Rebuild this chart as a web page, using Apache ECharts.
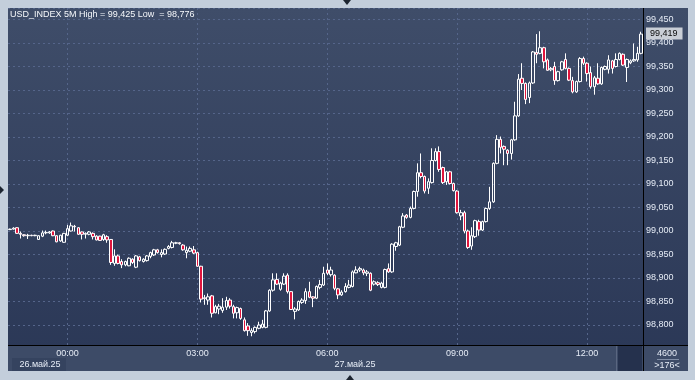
<!DOCTYPE html>
<html><head><meta charset="utf-8">
<script src="https://cdn.jsdelivr.net/npm/echarts@6/dist/echarts.min.js"></script>
<style>html,body{margin:0;padding:0;background:#c3cedb;overflow:hidden}#c{width:695px;height:380px}</style>
</head><body><div id="c"></div>
<script>
// ---------- data ----------
const symbol = 'USD_INDEX';
const timeframe = '5M';
const firstBarTime = '22:40';          // first visible bar, 26 May 2025
const barMinutes = 5;
const tickLabels = ['00:00', '03:00', '06:00', '09:00', '12:00'];
const dateLabels = ['26.май.25', '27.май.25'];
const totalBars = 4600;
const yMin = 98.75, yMax = 99.4745, yStep = 0.05;
// [open, close, low, high]
const ohlc = [
[99.003,99.004,99.002,99.005],[99.004,99.006,99.003,99.008],[99.007,98.995,98.994,99.008],[98.995,98.993,98.984,98.999],
[98.992,98.990,98.988,98.993],[98.990,98.991,98.983,98.994],[98.991,98.990,98.989,98.992],[98.990,98.991,98.989,98.992],
[98.982,98.990,98.981,98.991],[98.989,98.996,98.987,99.001],[98.996,98.997,98.993,99.001],[98.996,98.998,98.994,99.000],
[99.000,98.990,98.989,99.001],[98.990,98.977,98.976,98.991],[98.979,98.991,98.977,98.992],[98.976,98.995,98.975,98.996],
[98.991,99.005,98.989,99.013],[99.000,99.011,98.999,99.018],[99.010,99.009,98.999,99.013],[99.007,98.993,98.992,99.008],
[98.998,98.993,98.982,98.999],[98.993,98.995,98.984,98.997],[98.993,98.998,98.991,99.000],[98.995,98.988,98.982,98.997],
[98.989,98.981,98.980,98.991],[98.989,98.980,98.979,98.990],[98.982,98.992,98.979,98.994],[98.988,98.981,98.975,98.991],
[98.982,98.933,98.928,98.983],[98.931,98.947,98.926,98.961],[98.947,98.931,98.929,98.950],[98.935,98.928,98.921,98.940],
[98.928,98.935,98.925,98.937],[98.926,98.942,98.925,98.944],[98.940,98.933,98.930,98.942],[98.923,98.947,98.921,98.949],
[98.945,98.937,98.935,98.947],[98.935,98.940,98.933,98.942],[98.937,98.947,98.935,98.949],[98.946,98.954,98.942,98.956],
[98.949,98.960,98.947,98.962],[98.960,98.954,98.952,98.962],[98.950,98.954,98.944,98.961],[98.951,98.961,98.949,98.963],
[98.963,98.967,98.961,98.970],[98.965,98.975,98.963,98.979],[98.974,98.975,98.972,98.977],[98.975,98.973,98.971,98.976],
[98.970,98.960,98.958,98.972],[98.954,98.959,98.942,98.967],[98.957,98.963,98.955,98.967],[98.960,98.953,98.951,98.968],
[98.954,98.925,98.924,98.956],[98.925,98.855,98.848,98.926],[98.858,98.856,98.843,98.864],[98.853,98.860,98.843,98.867],
[98.862,98.825,98.816,98.864],[98.826,98.839,98.825,98.843],[98.834,98.840,98.823,98.845],[98.831,98.838,98.826,98.857],
[98.838,98.852,98.832,98.860],[98.853,98.840,98.835,98.857],[98.839,98.825,98.814,98.843],[98.826,98.837,98.814,98.839],
[98.835,98.814,98.811,98.837],[98.811,98.788,98.786,98.816],[98.798,98.788,98.777,98.804],[98.784,98.788,98.776,98.793],
[98.786,98.795,98.782,98.797],[98.793,98.800,98.791,98.807],[98.795,98.802,98.793,98.811],[98.795,98.830,98.793,98.832],
[98.830,98.874,98.828,98.876],[98.874,98.896,98.871,98.910],[98.897,98.887,98.885,98.910],[98.876,98.889,98.873,98.892],
[98.887,98.904,98.885,98.910],[98.906,98.871,98.867,98.910],[98.871,98.833,98.832,98.872],[98.829,98.834,98.812,98.838],
[98.832,98.850,98.830,98.852],[98.848,98.853,98.845,98.857],[98.852,98.871,98.845,98.878],[98.871,98.859,98.857,98.892],
[98.860,98.857,98.838,98.861],[98.857,98.882,98.855,98.884],[98.880,98.886,98.876,98.896],[98.885,98.910,98.883,98.924],
[98.917,98.910,98.906,98.931],[98.907,98.917,98.903,98.924],[98.906,98.878,98.874,98.908],[98.877,98.864,98.855,98.879],
[98.864,98.870,98.862,98.874],[98.871,98.882,98.869,98.889],[98.880,98.885,98.878,98.896],[98.882,98.913,98.880,98.916],
[98.911,98.917,98.910,98.925],[98.917,98.920,98.913,98.924],[98.917,98.911,98.906,98.920],[98.910,98.913,98.904,98.917],
[98.910,98.874,98.872,98.912],[98.887,98.892,98.884,98.895],[98.890,98.886,98.883,98.893],[98.880,98.889,98.878,98.892],
[98.880,98.918,98.878,98.920],[98.920,98.913,98.911,98.931],[98.913,98.972,98.911,98.974],[98.967,98.975,98.958,98.977],
[98.970,99.009,98.968,99.011],[99.008,99.032,99.006,99.038],[99.034,99.029,99.026,99.036],[99.029,99.048,99.027,99.052],
[99.048,99.084,99.046,99.086],[99.084,99.124,99.073,99.144],[99.124,99.116,99.112,99.165],[99.116,99.085,99.080,99.118],
[99.091,99.105,99.079,99.112],[99.103,99.150,99.101,99.176],[99.150,99.169,99.148,99.176],[99.169,99.131,99.126,99.180],
[99.135,99.103,99.100,99.137],[99.105,99.126,99.098,99.128],[99.126,99.101,99.099,99.128],[99.101,99.086,99.084,99.103],
[99.085,99.039,99.037,99.087],[99.032,99.039,99.023,99.045],[99.039,99.000,98.995,99.043],[99.000,98.965,98.962,99.003],
[98.968,98.990,98.960,99.008],[98.988,99.022,98.985,99.024],[99.020,99.002,98.990,99.024],[99.002,99.020,99.000,99.022],
[99.020,99.048,99.018,99.050],[99.048,99.062,99.045,99.094],[99.062,99.144,99.060,99.146],[99.144,99.195,99.142,99.204],
[99.195,99.178,99.165,99.201],[99.180,99.174,99.140,99.182],[99.172,99.165,99.140,99.174],[99.165,99.194,99.152,99.196],
[99.194,99.245,99.192,99.275],[99.245,99.323,99.243,99.334],[99.325,99.314,99.300,99.357],[99.314,99.280,99.270,99.316],
[99.284,99.315,99.272,99.318],[99.315,99.381,99.313,99.383],[99.380,99.376,99.357,99.419],[99.378,99.390,99.376,99.425],
[99.390,99.360,99.346,99.392],[99.364,99.342,99.341,99.367],[99.343,99.346,99.340,99.349],[99.350,99.320,99.311,99.360],
[99.320,99.339,99.318,99.341],[99.343,99.360,99.341,99.362],[99.365,99.346,99.344,99.378],[99.346,99.321,99.319,99.348],
[99.320,99.296,99.293,99.328],[99.296,99.318,99.294,99.320],[99.318,99.367,99.316,99.370],[99.367,99.357,99.353,99.371],
[99.357,99.335,99.318,99.359],[99.337,99.307,99.303,99.350],[99.307,99.326,99.290,99.330],[99.325,99.313,99.311,99.357],
[99.313,99.348,99.311,99.350],[99.344,99.350,99.342,99.352],[99.344,99.364,99.335,99.374],[99.362,99.346,99.335,99.364],
[99.350,99.365,99.348,99.378],[99.365,99.378,99.363,99.380],[99.376,99.353,99.351,99.378],[99.348,99.365,99.317,99.367],
[99.358,99.362,99.355,99.365],[99.362,99.365,99.360,99.399],[99.364,99.378,99.360,99.392],[99.378,99.419,99.376,99.424]
];

// ---------- derived ----------
const categories = [];
{
  const [hh, mm] = firstBarTime.split(':').map(Number);
  let t = hh * 60 + mm;
  for (let i = 0; i < ohlc.length; i++) {
    const m = ((t + i * barMinutes) % 1440 + 1440) % 1440;
    categories.push(String(Math.floor(m / 60)).padStart(2, '0') + ':' + String(m % 60).padStart(2, '0'));
  }
}
const fmt = v => v.toFixed(3).replace('.', ',');
const hi = Math.max(...ohlc.map(d => d[3]));
const lo = Math.min(...ohlc.map(d => d[2]));
const last = ohlc[ohlc.length - 1][1];

const FONT = '"Liberation Sans", Arial, sans-serif';
const TXT = '#e6ecf6';

const chart = echarts.init(document.getElementById('c'), null, {renderer: 'canvas'});
chart.setOption({
  animation: false,
  backgroundColor: '#c3cedb',
  textStyle: {fontFamily: FONT},
  title: {
    text: symbol + ' ' + timeframe + ' High = ' + fmt(hi) + ' Low  = ' + fmt(lo),
    left: 10, top: 10, padding: 0,
    textStyle: {color: '#f6f8fb', fontSize: 9, fontWeight: 'normal', fontFamily: FONT}
  },
  grid: {left: 8, right: 52, top: 8, bottom: 31.5, containLabel: false},
  xAxis: [{
    type: 'category', data: categories, boundaryGap: true, z: 0,
    axisLine: {show: false}, axisTick: {show: false}, axisLabel: {show: false},
    splitLine: {show: true, alignWithLabel: true,
      interval: (i, v) => tickLabels.includes(v),
      lineStyle: {color: '#55658a', width: 1, type: [2, 3]}}
  }, {
    type: 'category', data: categories, boundaryGap: true, position: 'bottom', z: 10,
    axisLine: {show: false}, axisTick: {show: false}, splitLine: {show: false},
    axisLabel: {show: true, interval: (i, v) => tickLabels.includes(v), margin: 5,
      verticalAlign: 'middle', color: TXT, fontSize: 9, fontFamily: FONT}
  }],
  yAxis: {
    type: 'value', position: 'right', min: yMin, max: yMax, interval: yStep,
    axisLine: {show: false}, axisTick: {show: false},
    axisLabel: {color: TXT, fontSize: 9, margin: 3, fontFamily: FONT,
      showMinLabel: false, showMaxLabel: false, formatter: v => fmt(v)},
    splitLine: {show: true, lineStyle: {color: '#55658a', width: 1, type: [2, 3]}}
  },
  series: [{
    type: 'candlestick', data: ohlc, xAxisIndex: 0, yAxisIndex: 0, barWidth: 3,
    itemStyle: {color: 'rgba(0,0,0,0)', color0: '#e0153d', borderColor: '#ffffff', borderColor0: '#ffffff', borderWidth: 1},
    emphasis: {disabled: true},
    markLine: {
      silent: true, symbol: ['none', 'none'], animation: false, z: 20,
      lineStyle: {color: 'rgba(0,0,0,0)', width: 0, type: 'solid'},
      label: {show: true, position: 'end', distance: 3, formatter: () => fmt(last),
        opacity: 1, backgroundColor: '#c9ced6', color: '#0a0a0a', fontSize: 9, fontFamily: FONT,
        padding: [2, 5, 1, 4]},
      data: [{yAxis: last}]
    }
  }],
  graphic: [
    {type: 'rect', z: -10, silent: true, shape: {x: 8, y: 8, width: 680, height: 363},
      style: {fill: new echarts.graphic.LinearGradient(0, 0, 0, 1, [
        {offset: 0, color: '#3f4d69'}, {offset: 1, color: '#2a3756'}])}},
    {type: 'rect', z: 5, silent: true, shape: {x: 8, y: 345.5, width: 680, height: 25.5}, style: {fill: '#3d4b67'}},
    {type: 'rect', z: 6, silent: true, shape: {x: 12, y: 358, width: 54, height: 13}, style: {fill: '#35435f'}},
    {type: 'rect', z: 6, silent: true, shape: {x: 618, y: 346, width: 24, height: 25}, style: {fill: '#25314d'}},
    {type: 'line', z: 6, silent: true, shape: {x1: 616.5, y1: 346, x2: 616.5, y2: 371}, style: {stroke: '#5a6680', lineWidth: 1}},
    {type: 'line', z: 7, silent: true, shape: {x1: 8, y1: 345.5, x2: 688, y2: 345.5}, style: {stroke: '#000', lineWidth: 1}},
    {type: 'line', z: 7, silent: true, shape: {x1: 643.5, y1: 8, x2: 643.5, y2: 371}, style: {stroke: '#000', lineWidth: 1}},
    {type: 'line', z: 7, silent: true, shape: {x1: 657, y1: 359.5, x2: 679, y2: 359.5}, style: {stroke: '#8390a8', lineWidth: 1}},
    {type: 'text', z: 8, silent: true, style: {text: String(totalBars), x: 667, y: 354, align: 'center', verticalAlign: 'middle', fill: TXT, font: '9px ' + FONT}},
    {type: 'text', z: 8, silent: true, style: {text: '>' + ohlc.length + '<', x: 667, y: 366, align: 'center', verticalAlign: 'middle', fill: TXT, font: '9px ' + FONT}},
    {type: 'text', z: 8, silent: true, style: {text: dateLabels[0], x: 40, y: 364.5, align: 'center', verticalAlign: 'middle', fill: TXT, font: '9px ' + FONT}},
    {type: 'text', z: 8, silent: true, style: {text: dateLabels[1], x: 355, y: 364.5, align: 'center', verticalAlign: 'middle', fill: TXT, font: '9px ' + FONT}},
    {type: 'polygon', z: 8, silent: true, shape: {points: [[343, 0], [351, 0], [347, 5]]}, style: {fill: '#1c2430'}},
    {type: 'polygon', z: 8, silent: true, shape: {points: [[346, 380], [354, 380], [350, 375]]}, style: {fill: '#1c2430'}},
    {type: 'polygon', z: 8, silent: true, shape: {points: [[0, 186], [0, 194], [4, 190]]}, style: {fill: '#1c2430'}}
  ]
});
</script>
</body></html>
